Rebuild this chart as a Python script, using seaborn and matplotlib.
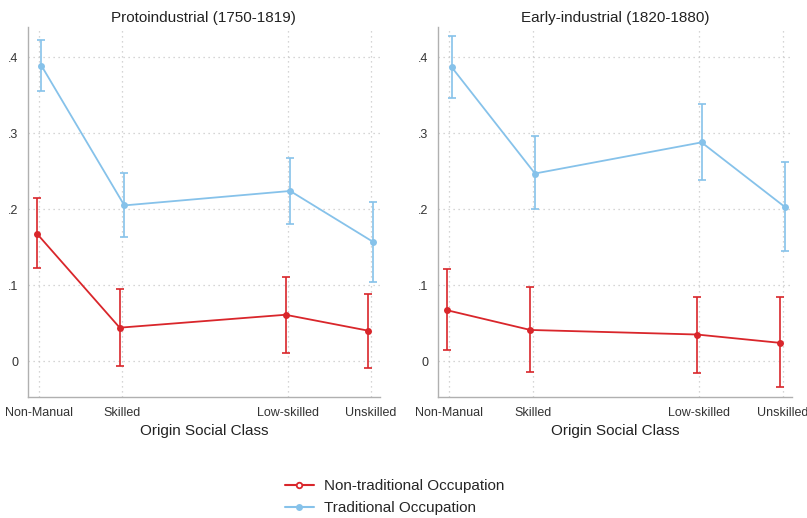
import numpy as np
import pandas as pd
import matplotlib
matplotlib.use("Agg")
import matplotlib.pyplot as plt
import seaborn as sns

classes = ["Non-Manual", "Skilled", "Low-skilled", "Unskilled"]
class_pos = [1, 2, 4, 5]
panels = ["Protoindustrial (1750-1819)", "Early-industrial (1820-1880)"]
series = ["Non-traditional Occupation", "Traditional Occupation"]

# Protoindustrial
proto_nontrad = [0.168, 0.044, 0.061, 0.040]
proto_nontrad_lo = [0.122, -0.006, 0.010, -0.009]
proto_nontrad_hi = [0.215, 0.095, 0.111, 0.089]
proto_trad = [0.389, 0.205, 0.224, 0.157]
proto_trad_lo = [0.356, 0.163, 0.180, 0.104]
proto_trad_hi = [0.423, 0.248, 0.268, 0.209]

# Early-industrial
early_nontrad = [0.067, 0.041, 0.035, 0.024]
early_nontrad_lo = [0.014, -0.014, -0.016, -0.034]
early_nontrad_hi = [0.121, 0.098, 0.084, 0.084]
early_trad = [0.387, 0.247, 0.288, 0.203]
early_trad_lo = [0.347, 0.200, 0.239, 0.145]
early_trad_hi = [0.428, 0.296, 0.339, 0.262]

rows = []
for panel, groups in zip(panels, [
        [(proto_nontrad, proto_nontrad_lo, proto_nontrad_hi), (proto_trad, proto_trad_lo, proto_trad_hi)],
        [(early_nontrad, early_nontrad_lo, early_nontrad_hi), (early_trad, early_trad_lo, early_trad_hi)]]):
    for s, (vals, lo, hi) in zip(series, groups):
        for c, x, v, l, h in zip(classes, class_pos, vals, lo, hi):
            rows.append(dict(panel=panel, cls=c, x=x, series=s, value=v, lo=l, hi=h))
df = pd.DataFrame(rows)

colors = {"Non-traditional Occupation": "#d9262b", "Traditional Occupation": "#86c2ea"}
dodge = {"Non-traditional Occupation": -0.028, "Traditional Occupation": 0.028}
df["xd"] = df["x"] + df["series"].map(dodge)

sns.set_style("white")
plt.rcParams["font.family"] = ["Liberation Sans", "DejaVu Sans"]

fig = plt.figure(figsize=(8.07, 5.18), dpi=100)
ax_pos = [[0.0347, 0.234, 0.436, 0.714], [0.543, 0.234, 0.438, 0.714]]

for i, panel in enumerate(panels):
    ax = fig.add_axes(ax_pos[i])
    sub = df[df["panel"] == panel]
    for s in series:
        d = sub[sub["series"] == s]
        ax.errorbar(d["xd"], d["value"], yerr=[d["value"] - d["lo"], d["hi"] - d["value"]],
                    fmt="none", ecolor=colors[s], elinewidth=1.2, capsize=3, capthick=1.2, zorder=2)
    sns.lineplot(data=sub, x="xd", y="value", hue="series", palette=colors,
                 marker="o", markersize=5, markeredgewidth=0, linewidth=1.3,
                 legend=False, ax=ax, zorder=3)
    ax.set_xlim(0.866, 5.11)
    ax.set_ylim(-0.047, 0.44)
    ax.set_xticks(class_pos)
    ax.set_xticklabels(classes, fontsize=9, color="#333333")
    ax.set_yticks([0, 0.1, 0.2, 0.3, 0.4])
    ax.set_yticklabels(["0", ".1", ".2", ".3", ".4"], fontsize=9, color="#333333")
    ax.grid(True, linestyle=(0, (1, 3)), color="#c8c8c8", linewidth=0.9)
    for side in ["top", "right"]:
        ax.spines[side].set_visible(False)
    for side in ["left", "bottom"]:
        ax.spines[side].set_color("#b0b0b0")
        ax.spines[side].set_linewidth(1.0)
    ax.tick_params(axis="both", length=4, color="#b0b0b0", width=1.0, pad=3)
    ax.set_xlabel("Origin Social Class", fontsize=11, color="#222222", labelpad=4)
    ax.set_ylabel("")
    ax.set_title(panel, fontsize=11, color="#222222", pad=3.5)

handles = [plt.Line2D([], [], color=colors["Non-traditional Occupation"], marker="o",
                      markersize=4, markerfacecolor="white", markeredgewidth=1.3, linewidth=1.5),
           plt.Line2D([], [], color=colors["Traditional Occupation"], marker="o",
                      markersize=5, markeredgewidth=0, linewidth=1.5)]
fig.legend(handles, series, loc="center", bbox_to_anchor=(0.489, 0.04), ncol=1, frameon=False,
           fontsize=11, handlelength=1.9, handletextpad=0.7, labelspacing=0.5)

fig.savefig("out.png", dpi=100)
